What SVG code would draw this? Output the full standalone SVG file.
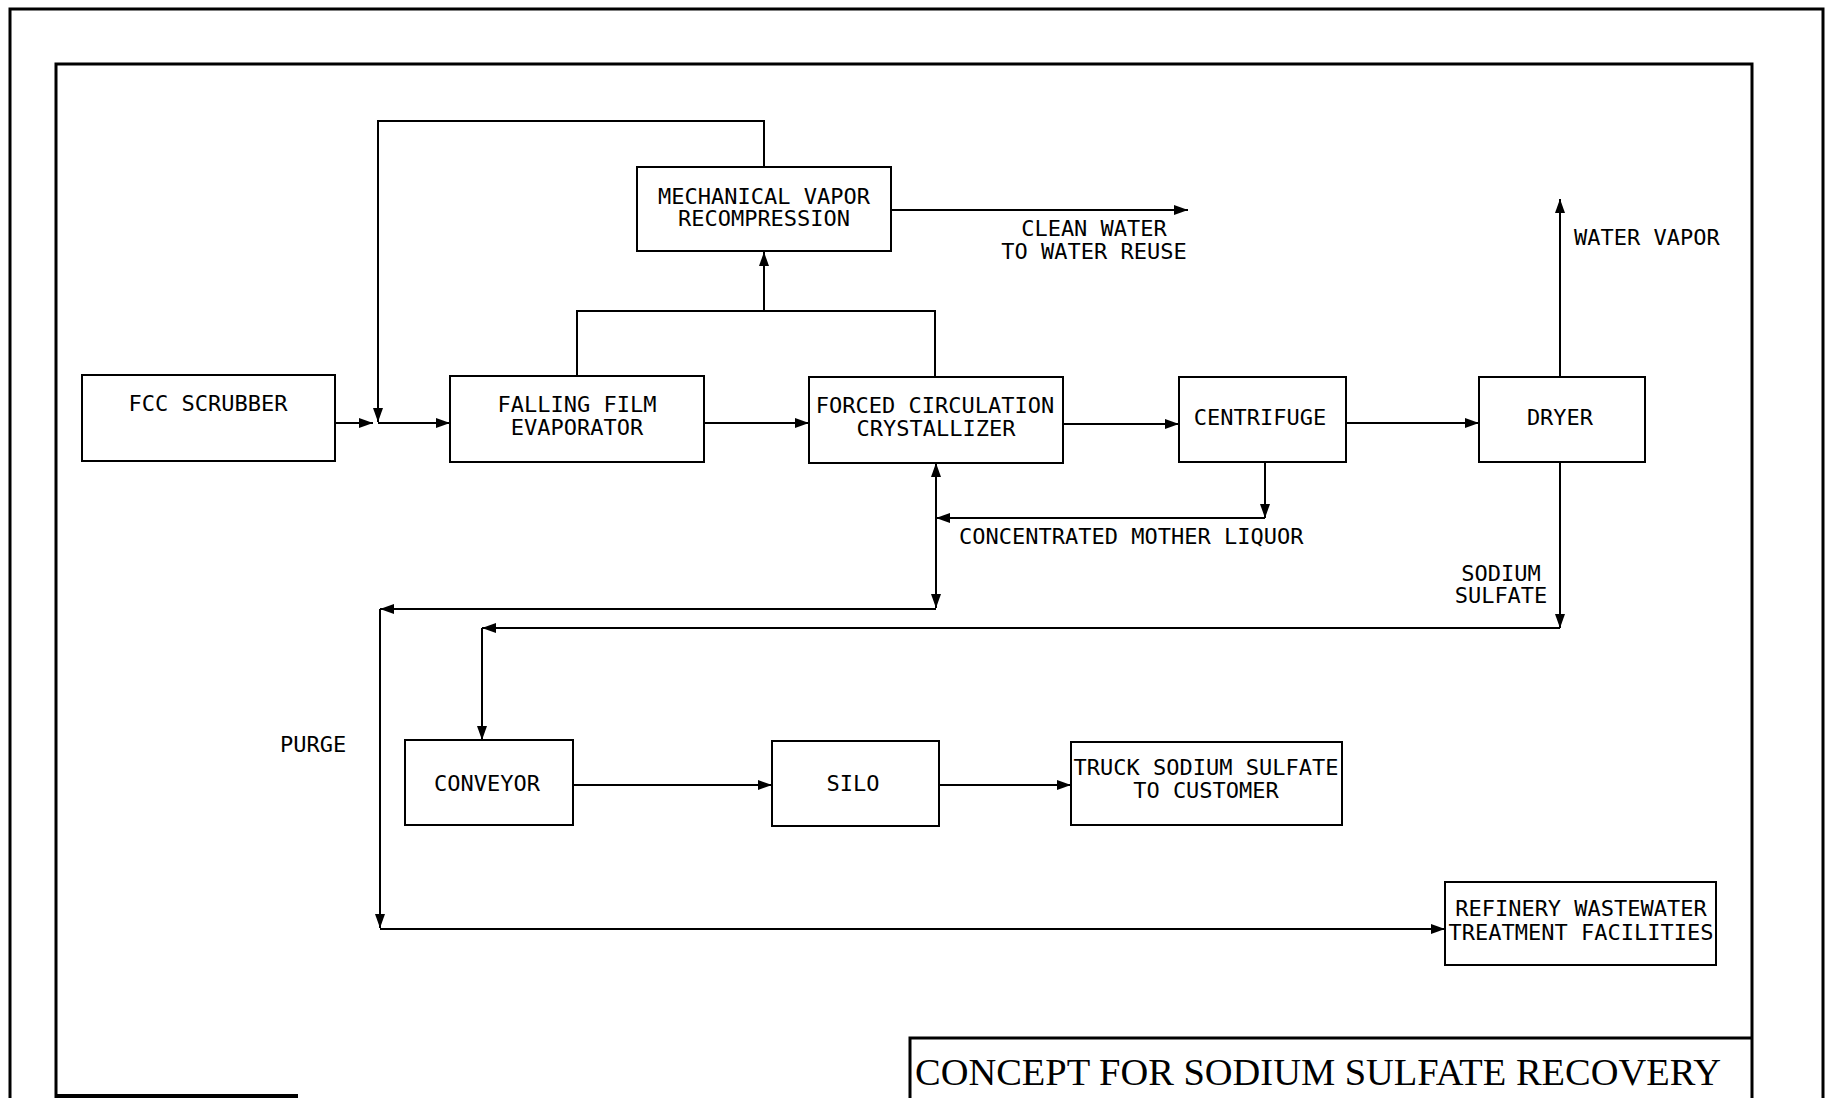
<svg xmlns="http://www.w3.org/2000/svg" width="1830" height="1098" viewBox="0 0 1830 1098">
<style>
.frame{fill:none;stroke:#000;stroke-width:3}
.box{fill:#fff;stroke:#000;stroke-width:2}
.c{fill:none;stroke:#000;stroke-width:2}
.t{font-family:"DejaVu Sans Mono","Liberation Mono",monospace;font-size:22px;fill:#000;text-anchor:middle}
.l{font-family:"DejaVu Sans Mono","Liberation Mono",monospace;font-size:22px;fill:#000}
.title{font-family:"Liberation Serif","Times New Roman",serif;font-size:38px;fill:#000}
</style>
<defs>
<marker id="arr" markerUnits="userSpaceOnUse" markerWidth="15" markerHeight="11" refX="14" refY="5.5" orient="auto">
<path d="M0,0.5 L14,5.5 L0,10.5 z" fill="#000"/>
</marker>
</defs>
<rect width="1830" height="1098" fill="#fff"/>
<g id="frame">
<path class="frame" d="M10,1098 V9 H1823 V1098"/>
<path class="frame" d="M56,1098 V64 H1752 V1098"/>
<path class="frame" d="M910,1098 V1038 H1752"/>
<path d="M56,1096 H298" stroke="#000" stroke-width="4"/>
</g>
<g id="connectors">
<path class="c" d="M335,423 H373" marker-end="url(#arr)"/>
<path class="c" d="M378,423 H450" marker-end="url(#arr)"/>
<path class="c" d="M764,167 V121 H378 V422" marker-end="url(#arr)"/>
<path class="c" d="M577,376 V311 H935 V377"/>
<path class="c" d="M764,311 V252" marker-end="url(#arr)"/>
<path class="c" d="M891,210 H1188" marker-end="url(#arr)"/>
<path class="c" d="M704,423 H809" marker-end="url(#arr)"/>
<path class="c" d="M1063,424 H1179" marker-end="url(#arr)"/>
<path class="c" d="M1346,423 H1479" marker-end="url(#arr)"/>
<path class="c" d="M1560,377 V199" marker-end="url(#arr)"/>
<path class="c" d="M1265,462 V518" marker-end="url(#arr)"/>
<path class="c" d="M1265,518 H936" marker-end="url(#arr)"/>
<path class="c" d="M936,530 V463" marker-end="url(#arr)"/>
<path class="c" d="M936,520 V608" marker-end="url(#arr)"/>
<path class="c" d="M936,609 H380" marker-end="url(#arr)"/>
<path class="c" d="M380,609 V928" marker-end="url(#arr)"/>
<path class="c" d="M380,929 H1445" marker-end="url(#arr)"/>
<path class="c" d="M1560,462 V628" marker-end="url(#arr)"/>
<path class="c" d="M1560,628 H482" marker-end="url(#arr)"/>
<path class="c" d="M482,628 V740" marker-end="url(#arr)"/>
<path class="c" d="M573,785 H772" marker-end="url(#arr)"/>
<path class="c" d="M939,785 H1071" marker-end="url(#arr)"/>
</g>
<g id="fcc-scrubber">
<rect class="box" x="82" y="375" width="253" height="86"/>
<text class="t" x="208" y="411">FCC SCRUBBER</text>
</g>
<g id="falling-film-evaporator">
<rect class="box" x="450" y="376" width="254" height="86"/>
<text class="t" x="577" y="412">FALLING FILM</text>
<text class="t" x="577" y="435">EVAPORATOR</text>
</g>
<g id="mvr">
<rect class="box" x="637" y="167" width="254" height="84"/>
<text class="t" x="764" y="204">MECHANICAL VAPOR</text>
<text class="t" x="764" y="226">RECOMPRESSION</text>
</g>
<g id="crystallizer">
<rect class="box" x="809" y="377" width="254" height="86"/>
<text class="t" x="935" y="413">FORCED CIRCULATION</text>
<text class="t" x="936" y="436">CRYSTALLIZER</text>
</g>
<g id="centrifuge">
<rect class="box" x="1179" y="377" width="167" height="85"/>
<text class="t" x="1260" y="425">CENTRIFUGE</text>
</g>
<g id="dryer">
<rect class="box" x="1479" y="377" width="166" height="85"/>
<text class="t" x="1560" y="425">DRYER</text>
</g>
<g id="conveyor">
<rect class="box" x="405" y="740" width="168" height="85"/>
<text class="t" x="487" y="791">CONVEYOR</text>
</g>
<g id="silo">
<rect class="box" x="772" y="741" width="167" height="85"/>
<text class="t" x="853" y="791">SILO</text>
</g>
<g id="truck">
<rect class="box" x="1071" y="742" width="271" height="83"/>
<text class="t" x="1206" y="775">TRUCK SODIUM SULFATE</text>
<text class="t" x="1206" y="798">TO CUSTOMER</text>
</g>
<g id="refinery">
<rect class="box" x="1445" y="882" width="271" height="83"/>
<text class="t" x="1581" y="916">REFINERY WASTEWATER</text>
<text class="t" x="1581" y="940">TREATMENT FACILITIES</text>
</g>
<g id="labels">
<text class="t" x="1094" y="236">CLEAN WATER</text>
<text class="t" x="1094" y="259">TO WATER REUSE</text>
<text class="l" x="1574" y="245">WATER VAPOR</text>
<text class="l" x="959" y="544">CONCENTRATED MOTHER LIQUOR</text>
<text class="t" x="1501" y="581">SODIUM</text>
<text class="t" x="1501" y="603">SULFATE</text>
<text class="l" x="280" y="752">PURGE</text>
</g>
<g id="title">
<text class="title" x="915" y="1085" textLength="806" lengthAdjust="spacingAndGlyphs">CONCEPT FOR SODIUM SULFATE RECOVERY</text>
</g>
</svg>
